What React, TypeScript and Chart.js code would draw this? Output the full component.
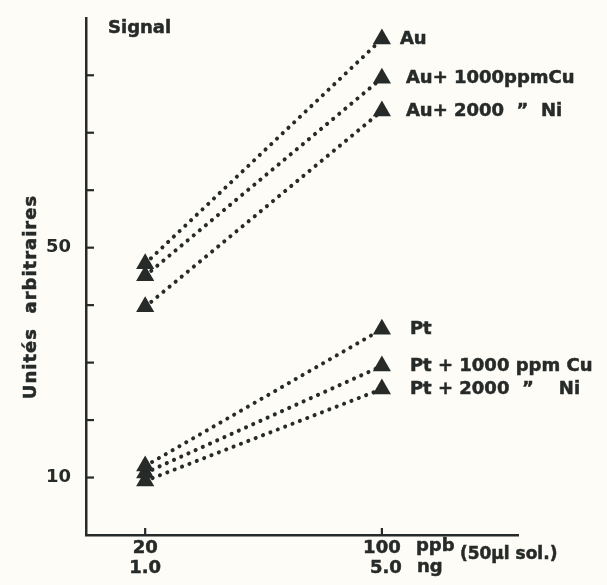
import React, { useEffect, useRef } from "react";
import { Chart, registerables } from "chart.js";

Chart.register(...registerables);

// Concentrations (ppb) on the x axis
const concentrations = [20, 100];
const massLabels = ["1.0", "5.0"];

// Signal values (arbitrary units)
const au = [47.2, 86.3];
const auCu = [45.1, 79.5];
const auNi = [39.7, 73.8];
const pt = [12.0, 35.8];
const ptCu = [10.8, 29.4];
const ptNi = [9.4, 25.4];

const seriesNames = [
  "Au",
  "Au+ 1000ppmCu",
  "Au+ 2000  \u201D  Ni",
  "Pt",
  "Pt + 1000 ppm Cu",
  "Pt + 2000  \u201D    Ni",
];
const seriesValues = [au, auCu, auNi, pt, ptCu, ptNi];

const yLabeled = [10, 50];

const INK = "#262a28";
const FONT = "'DejaVu Sans', sans-serif";

export default function App() {
  const ref = useRef<HTMLCanvasElement | null>(null);

  useEffect(() => {
    document.body.style.margin = "0";
    document.body.style.background = "#fdfcf7";
    const canvas = ref.current;
    if (!canvas) return;

    const labelOffsets = [18, 24, 24, 28, 28, 28];

    const txt = (ctx: CanvasRenderingContext2D, s: string, x: number, y: number) => {
      ctx.fillText(s, x, y);
      ctx.strokeText(s, x, y);
    };

    const decor = {
      id: "decor",
      afterDraw(chart: any) {
        const ctx = chart.ctx as CanvasRenderingContext2D;
        const xs = chart.scales.x;
        const ys = chart.scales.y;
        const area = chart.chartArea;
        ctx.save();
        ctx.strokeStyle = INK;
        ctx.lineWidth = 2.2;
        // inward y tick marks
        for (let v = 10; v <= 80; v += 10) {
          const py = ys.getPixelForValue(v);
          ctx.beginPath();
          ctx.moveTo(area.left, py);
          ctx.lineTo(area.left + 8, py);
          ctx.stroke();
        }
        // inward x tick marks
        concentrations.forEach((c) => {
          const px = xs.getPixelForValue(c);
          ctx.beginPath();
          ctx.moveTo(px, area.bottom);
          ctx.lineTo(px, area.bottom - 7);
          ctx.stroke();
        });

        ctx.fillStyle = INK;
        ctx.lineWidth = 0.5;
        ctx.textBaseline = "middle";
        // x labels
        ctx.font = `bold 18px ${FONT}`;
        ctx.textAlign = "center";
        concentrations.forEach((c, i) => {
          const px = xs.getPixelForValue(c);
          txt(ctx, String(c), px, area.bottom + 13);
          txt(ctx, massLabels[i], px + (i === 1 ? 4 : 0), area.bottom + 33);
        });
        const p100 = xs.getPixelForValue(100);
        ctx.textAlign = "left";
        txt(ctx, "ppb", p100 + 34, area.bottom + 11);
        txt(ctx, "ng", p100 + 35, area.bottom + 32);
        ctx.font = `bold 17px ${FONT}`;
        txt(ctx, "(50\u00B5l sol.)", p100 + 78, area.bottom + 20);

        // Signal label
        ctx.font = `bold 18px ${FONT}`;
        txt(ctx, "Signal", 108, 28);

        // y title
        ctx.save();
        ctx.translate(31, 297);
        ctx.rotate(-Math.PI / 2);
        ctx.textAlign = "center";
        ctx.font = `bold 18px ${FONT}`;
        (ctx as any).letterSpacing = "1px";
        txt(ctx, "Unit\u00E9s  arbitraires", 0, 0);
        ctx.restore();

        // series labels at the right end
        ctx.font = `bold 18px ${FONT}`;
        ctx.textAlign = "left";
        seriesNames.forEach((name, i) => {
          const vals = seriesValues[i];
          const px = xs.getPixelForValue(concentrations[1]);
          const py = ys.getPixelForValue(vals[1]);
          txt(ctx, name, px + labelOffsets[i], py);
        });
        ctx.restore();
      },
    };

    const chart = new Chart(canvas, {
      type: "line",
      data: {
        datasets: seriesValues.map((vals, i) => ({
          label: seriesNames[i],
          data: concentrations.map((c, j) => ({ x: c, y: vals[j] })),
          borderColor: INK,
          borderWidth: 4,
          borderDash: [0.1, 7.8],
          borderCapStyle: "round" as const,
          pointStyle: "triangle" as const,
          pointRadius: 10.5,
          pointBackgroundColor: INK,
          pointBorderColor: INK,
          pointBorderWidth: 0,
          fill: false,
        })),
      },
      options: {
        responsive: false,
        animation: false,
        devicePixelRatio: 1,
        layout: { padding: { top: 10, right: 89, left: 0, bottom: 0 } },
        plugins: {
          legend: { display: false },
          tooltip: { enabled: false },
          title: { display: false },
        },
        scales: {
          x: {
            type: "linear",
            min: 0,
            max: 146,
            grid: { display: false },
            border: { display: true, color: INK, width: 2.5 },
            ticks: { display: false },
            afterFit: (s: any) => {
              s.height = 50;
            },
          },
          y: {
            type: "linear",
            min: 0,
            max: 90,
            grid: { display: false },
            border: { display: true, color: INK, width: 2.5 },
            ticks: {
              stepSize: 10,
              padding: 7,
              color: INK,
              font: { family: FONT, size: 18, weight: "bold" },
              callback: (v: any) => (yLabeled.includes(Number(v)) ? String(v) : ""),
            },
            afterFit: (s: any) => {
              s.width = 86;
            },
          },
        },
      },
      plugins: [decor],
    });
    return () => chart.destroy();
  }, []);

  return (
    <div style={{ width: 607, height: 585 }}>
      <canvas ref={ref} width={607} height={585} />
    </div>
  );
}
